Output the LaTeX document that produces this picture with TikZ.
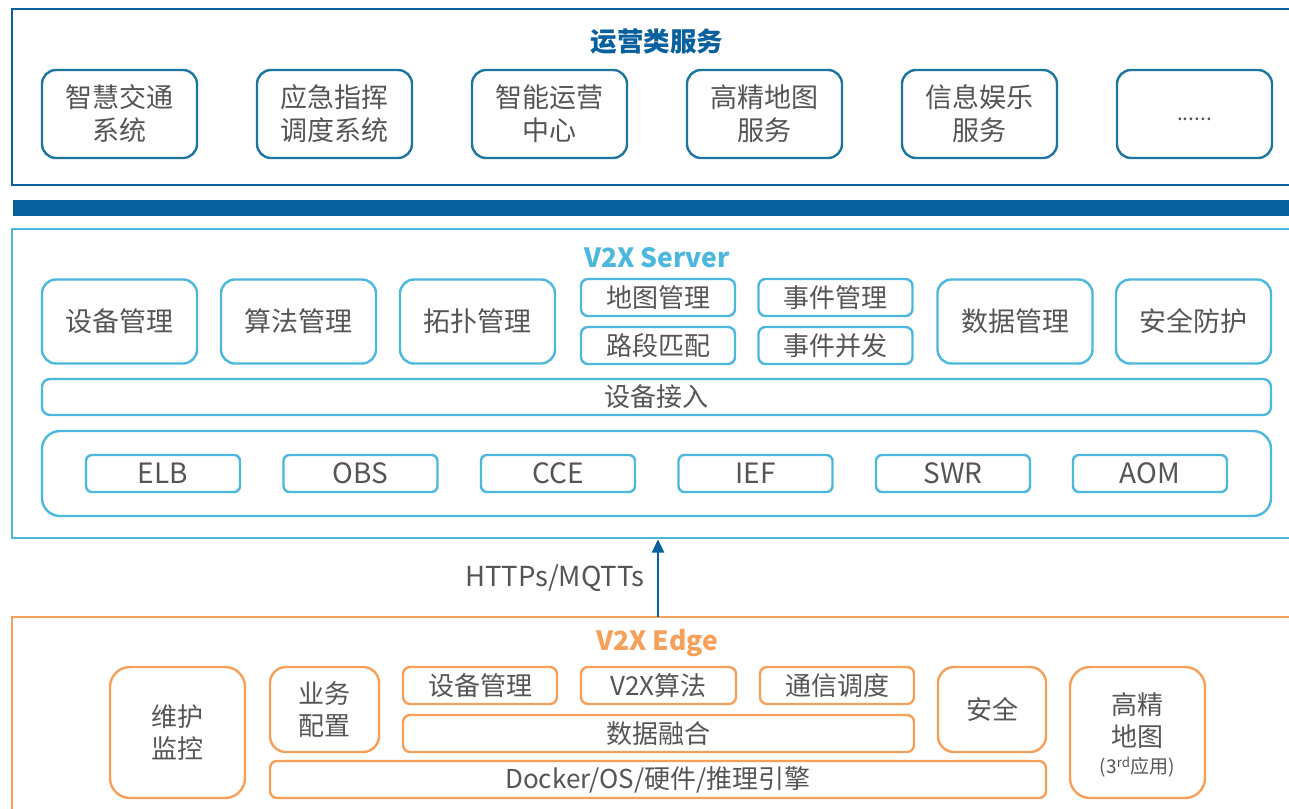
\documentclass[tikz,border=0pt]{standalone}
\usepackage{fontspec}
\setmainfont{Noto Sans CJK SC}
\usetikzlibrary{arrows.meta}

\definecolor{navy}{RGB}{8,96,158}
\definecolor{tealblue}{RGB}{30,118,160}
\definecolor{skyblue}{RGB}{77,184,222}
\definecolor{edgeorange}{RGB}{247,160,90}
\definecolor{txtgrey}{RGB}{85,85,85}

\newcommand{\fs}[2]{\fontsize{#1}{#2}\selectfont}

\tikzset{
  base/.style={align=center, text=txtgrey, inner sep=0pt, line width=2.4pt},
  svcbox/.style={base, draw=tealblue, rounded corners=14pt,
    minimum width=155pt, minimum height=88pt, font=\fs{27}{33}},
  srvbox/.style={base, draw=skyblue, rounded corners=14pt, font=\fs{27}{33}},
  srvsmall/.style={srvbox, rounded corners=7pt, minimum width=154pt, minimum height=37pt, font=\fs{26}{30}},
  cloudbox/.style={srvbox, rounded corners=6pt, minimum width=154pt, minimum height=37pt, font=\fs{28}{30}},
  edgebox/.style={base, draw=edgeorange, rounded corners=14pt, font=\fs{26}{32}},
  edgesmall/.style={edgebox, rounded corners=7pt, minimum height=37pt},
  layertitle/.style={font=\bfseries\fs{26.5}{30}, inner sep=0pt}
}

\begin{document}
\begin{tikzpicture}[x=1pt,y=-1pt]
\useasboundingbox (0,0) rectangle (1289,808);
\clip (0,0) rectangle (1289,808);
\fill[white] (0,0) rectangle (1289,808);

% ---- operation services layer
\draw[navy, line width=2.8pt] (1300,9) -- (12,9) -- (12,185) -- (1300,185);
\node[layertitle, text=navy] (opstitle) at (657,42) {运营类服务};
\node[svcbox] (s1) at (119.5,114) {智慧交通\\系统};
\node[svcbox] (s2) at (334.5,114) {应急指挥\\调度系统};
\node[svcbox] (s3) at (549.5,114) {智能运营\\中心};
\node[svcbox] (s4) at (764.5,114) {高精地图\\服务};
\node[svcbox] (s5) at (979.5,114) {信息娱乐\\服务};
\node[svcbox] (s6) at (1194.5,114) {};
\node[text=txtgrey, font=\fs{21}{24}, inner sep=0pt] (s6dots) at (1194.5,119) {......};

% ---- separating bar
\fill[navy] (13,200) rectangle (1300,216);

% ---- V2X server layer
\draw[skyblue, line width=2.6pt] (1300,229) -- (12,229) -- (12,538) -- (1300,538);
\node[layertitle, text=skyblue] (srvtitle) at (657,258) {V2X Server};

\node[srvbox, minimum width=155pt, minimum height=84pt] (m1) at (119.5,321.5) {设备管理};
\node[srvbox, minimum width=155pt, minimum height=84pt] (m2) at (298.5,321.5) {算法管理};
\node[srvbox, minimum width=155pt, minimum height=84pt] (m3) at (477.5,321.5) {拓扑管理};
\node[srvsmall] (m4) at (658,297.5) {地图管理};
\node[srvsmall] (m5) at (658,345.5) {路段匹配};
\node[srvsmall] (m6) at (835.5,297.5) {事件管理};
\node[srvsmall] (m7) at (835.5,345.5) {事件并发};
\node[srvbox, minimum width=155pt, minimum height=84pt] (m8) at (1015,321.5) {数据管理};
\node[srvbox, minimum width=155pt, minimum height=84pt] (m9) at (1193.5,321.5) {安全防护};

\node[srvbox, rounded corners=8pt, minimum width=1229pt, minimum height=36pt, font=\fs{26}{30}] (access) at (656.5,397) {设备接入};

\node[srvbox, rounded corners=18pt, minimum width=1229pt, minimum height=85pt] (cloud) at (656.5,473.5) {};
\node[cloudbox] (c1) at (163,473.5) {ELB};
\node[cloudbox] (c2) at (360.5,473.5) {OBS};
\node[cloudbox] (c3) at (558,473.5) {CCE};
\node[cloudbox] (c4) at (755.5,473.5) {IEF};
\node[cloudbox] (c5) at (953,473.5) {SWR};
\node[cloudbox] (c6) at (1150,473.5) {AOM};

% ---- V2X edge layer
\draw[edgeorange, line width=2.6pt] (12,820) -- (12,617) -- (1300,617);
\coordinate (edgetop) at (658,617);
\coordinate (srvbottom) at (658,539.5);
\draw[navy, line width=2.4pt, -{Triangle[length=13pt,width=12pt]}] (edgetop) -- (srvbottom);
\node[anchor=east, text=txtgrey, font=\fs{27.5}{30}, inner sep=0pt] (proto) at (645,578) {HTTPs/MQTTs};

\node[layertitle, text=edgeorange] (edgetitle) at (657,643) {V2X Edge};

\node[edgebox, rounded corners=20pt, minimum width=135pt, minimum height=131pt] (e1) at (177.5,732.5) {维护\\监控};
\node[edgebox, rounded corners=16pt, minimum width=109pt, minimum height=85pt] (e2) at (324.5,709.5) {业务\\配置};
\node[edgesmall, minimum width=154pt] (e3) at (480,685.5) {设备管理};
\node[edgesmall, minimum width=155pt] (e4) at (658.5,685.5) {V2X算法};
\node[edgesmall, minimum width=154pt] (e5) at (837,685.5) {通信调度};
\node[edgesmall, minimum width=511pt] (e6) at (658.5,733.5) {数据融合};
\node[edgesmall, minimum width=776pt] (e7) at (658,779.5) {Docker/OS/硬件/推理引擎};
\node[edgebox, rounded corners=16pt, minimum width=108pt, minimum height=85pt] (e8) at (992,709.5) {安全};
\node[edgebox, rounded corners=20pt, minimum width=135pt, minimum height=131pt] (e9) at (1137.5,732.5) {};
\node[text=txtgrey, font=\fs{26}{32}, align=center, inner sep=0pt] (e9a) at (1137.5,721) {高精\\地图};
\node[text=txtgrey, font=\fs{19}{22}, inner sep=0pt] (e9b) at (1137.5,767) {(3\textsuperscript{rd}应用)};
\end{tikzpicture}
\end{document}
